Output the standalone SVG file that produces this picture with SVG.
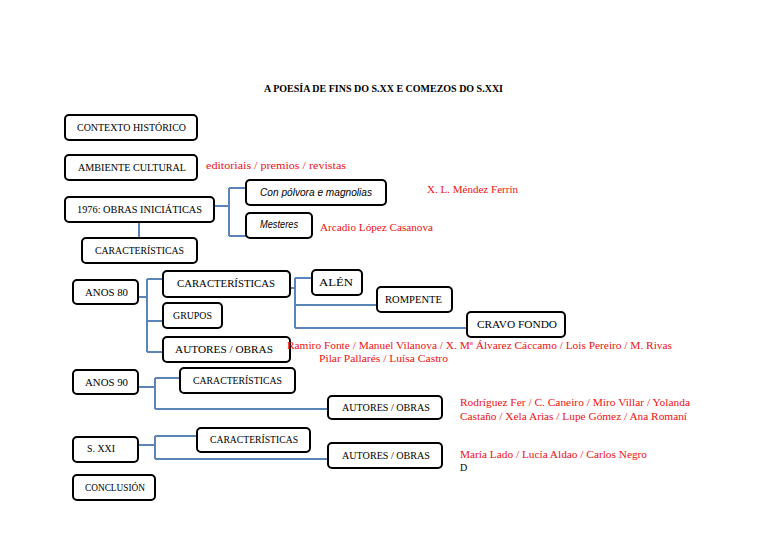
<svg xmlns="http://www.w3.org/2000/svg" width="768" height="543" viewBox="0 0 768 543">
<style>
.box{fill:#fff;stroke:#000;stroke-width:2}
.lbl{font-family:"Liberation Serif","DejaVu Serif",serif;font-size:10px;fill:#000}
.it{font-family:"Liberation Sans","Open Sans",sans-serif;font-size:10px;font-style:italic;fill:#000}
.red{font-family:"Liberation Serif","DejaVu Serif",serif;font-size:10.5px;fill:#ee1111}
.ttl{font-family:"Liberation Serif","DejaVu Serif",serif;font-size:10px;font-weight:bold;fill:#000}
.con{fill:none;stroke:#5b84b8;stroke-width:2}
</style>
<rect width="768" height="543" fill="#fff"/>
<text class="ttl" x="264" y="92" textLength="239" lengthAdjust="spacingAndGlyphs">A POESÍA DE FINS DO S.XX E COMEZOS DO S.XXI</text>

<g id="connectors">
<path class="con" d="M213 206H229M229 188V236M229 188H246M229 236H246"/>
<path class="con" d="M139 222V238"/>
<path class="con" d="M139 297H147M147 279V352M147 279H163M147 321H163M147 352H163"/>
<path class="con" d="M290 288H295M295 278V328M295 278H312M295 305H377M295 328H467"/>
<path class="con" d="M138 387H155M155 378V409M155 378H180M155 409H328"/>
<path class="con" d="M138 445H155M155 436V459M155 436H197M155 459H328"/>
</g>

<g id="contexto"><rect class="box" x="65" y="115" width="132" height="25" rx="4"/><text class="lbl" x="77" y="131" textLength="109" lengthAdjust="spacingAndGlyphs">CONTEXTO HISTÓRICO</text></g>
<g id="ambiente"><rect class="box" x="65" y="155" width="132" height="25" rx="4"/><text class="lbl" x="78" y="171" textLength="108" lengthAdjust="spacingAndGlyphs">AMBIENTE CULTURAL</text></g>
<text class="red" x="206" y="169" textLength="140" lengthAdjust="spacingAndGlyphs">editoriais / premios / revistas</text>

<g id="obras1976"><rect class="box" x="65" y="197" width="149" height="25" rx="4"/><text class="lbl" x="77" y="213" textLength="125" lengthAdjust="spacingAndGlyphs">1976: OBRAS INICIÁTICAS</text></g>
<g id="polvora"><rect class="box" x="246" y="180" width="140" height="25" rx="4"/><text class="it" x="260" y="196" textLength="112" lengthAdjust="spacingAndGlyphs">Con pólvora e magnolias</text></g>
<text class="red" x="427" y="193" textLength="91" lengthAdjust="spacingAndGlyphs">X. L. Méndez Ferrín</text>
<g id="mesteres"><rect class="box" x="246" y="213" width="66" height="25" rx="4"/><text class="it" x="260" y="228" textLength="38" lengthAdjust="spacingAndGlyphs">Mesteres</text></g>
<text class="red" x="320" y="231" textLength="113" lengthAdjust="spacingAndGlyphs">Arcadio López Casanova</text>
<g id="caract1976"><rect class="box" x="82" y="238" width="115" height="25" rx="4"/><text class="lbl" x="95" y="254" textLength="89" lengthAdjust="spacingAndGlyphs">CARACTERÍSTICAS</text></g>

<g id="anos80"><rect class="box" x="73" y="280" width="65" height="24" rx="4"/><text class="lbl" x="85" y="296" textLength="43" lengthAdjust="spacingAndGlyphs">ANOS  80</text></g>
<g id="caract80"><rect class="box" x="163" y="271" width="127" height="26" rx="4"/><text class="lbl" x="177" y="287" textLength="98" lengthAdjust="spacingAndGlyphs">CARACTERÍSTICAS</text></g>
<g id="grupos"><rect class="box" x="163" y="303" width="59" height="25" rx="4"/><text class="lbl" x="173" y="319" textLength="39" lengthAdjust="spacingAndGlyphs">GRUPOS</text></g>
<g id="autores80"><rect class="box" x="163" y="337" width="127" height="25" rx="4"/><text class="lbl" x="175" y="353" textLength="98" lengthAdjust="spacingAndGlyphs">AUTORES / OBRAS</text></g>
<g id="alen"><rect class="box" x="312" y="270" width="50" height="25" rx="4"/><text class="lbl" x="319" y="286" textLength="34" lengthAdjust="spacingAndGlyphs">ALÉN</text></g>
<g id="rompente"><rect class="box" x="377" y="287" width="75" height="25" rx="4"/><text class="lbl" x="385" y="303" textLength="57" lengthAdjust="spacingAndGlyphs">ROMPENTE</text></g>
<g id="cravo"><rect class="box" x="467" y="312" width="98" height="25" rx="4"/><text class="lbl" x="477" y="328" textLength="80" lengthAdjust="spacingAndGlyphs">CRAVO FONDO</text></g>
<text class="red" x="287" y="349" textLength="385" lengthAdjust="spacingAndGlyphs">Ramiro Fonte / Manuel Vilanova / X. Mª Álvarez Cáccamo / Lois Pereiro / M. Rivas</text>
<text class="red" x="319" y="362" textLength="129" lengthAdjust="spacingAndGlyphs">Pilar Pallarés / Luísa Castro</text>

<g id="anos90"><rect class="box" x="73" y="370" width="65" height="24" rx="4"/><text class="lbl" x="85" y="386" textLength="43" lengthAdjust="spacingAndGlyphs">ANOS  90</text></g>
<g id="caract90"><rect class="box" x="180" y="368" width="115" height="25" rx="4"/><text class="lbl" x="193" y="384" textLength="89" lengthAdjust="spacingAndGlyphs">CARACTERÍSTICAS</text></g>
<g id="autores90"><rect class="box" x="328" y="396" width="114" height="23" rx="4"/><text class="lbl" x="342" y="411" textLength="88" lengthAdjust="spacingAndGlyphs">AUTORES / OBRAS</text></g>
<text class="red" x="460" y="406" textLength="230" lengthAdjust="spacingAndGlyphs">Rodríguez Fer / C. Caneiro / Miro Villar / Yolanda</text>
<text class="red" x="460" y="420" textLength="227" lengthAdjust="spacingAndGlyphs">Castaño / Xela Arias / Lupe Gómez / Ana Romaní</text>

<g id="sxxi"><rect class="box" x="73" y="437" width="65" height="25" rx="4"/><text class="lbl" x="87" y="452" textLength="28" lengthAdjust="spacingAndGlyphs">S. XXI</text></g>
<g id="caractxxi"><rect class="box" x="197" y="428" width="113" height="24" rx="4"/><text class="lbl" x="210" y="443" textLength="88" lengthAdjust="spacingAndGlyphs">CARACTERÍSTICAS</text></g>
<g id="autoresxxi"><rect class="box" x="328" y="443" width="114" height="25" rx="4"/><text class="lbl" x="342" y="459" textLength="88" lengthAdjust="spacingAndGlyphs">AUTORES / OBRAS</text></g>
<text class="red" x="460" y="458" textLength="187" lengthAdjust="spacingAndGlyphs">María Lado / Lucía Aldao / Carlos Negro</text>
<text class="lbl" x="460" y="471">D</text>

<g id="conclusion"><rect class="box" x="73" y="475" width="82" height="25" rx="4"/><text class="lbl" x="85" y="491" textLength="60" lengthAdjust="spacingAndGlyphs">CONCLUSIÓN</text></g>
</svg>
